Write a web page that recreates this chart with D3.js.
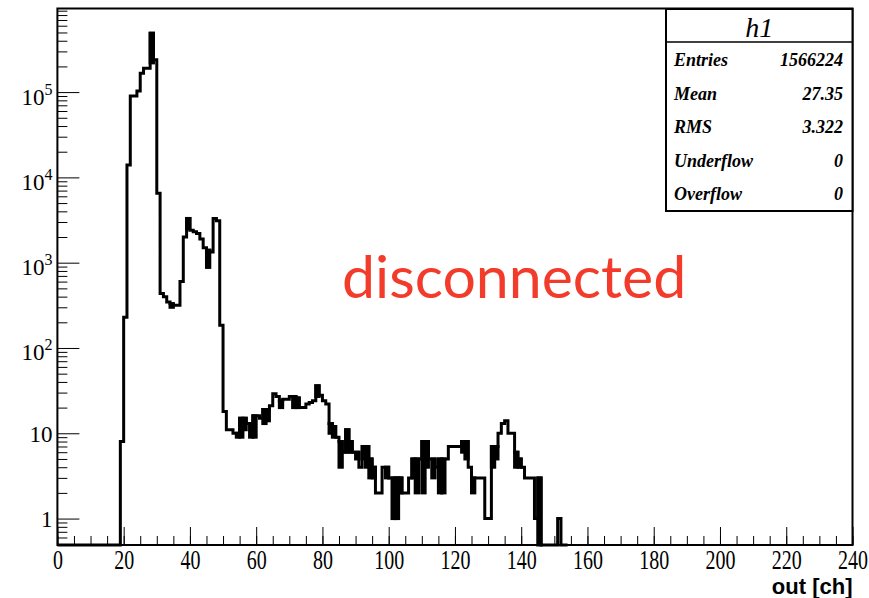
<!DOCTYPE html>
<html>
<head>
<meta charset="utf-8">
<script src="https://cdn.jsdelivr.net/npm/d3@7"></script>
<style>
  body { margin: 0; background: #fff; }
  svg { display: block; }
</style>
</head>
<body>
<svg id="chart" width="869" height="598"></svg>
<script>
// h1 contents, one value per 1-ch bin, starting at firstBin (bins below are empty)
const firstBin = 19;
const counts = [
  8, 230, 14000, 90000, 90000, 103000, 166000, 190000, 190000, 490000,      // 19-28
  240000, 6500, 435, 400, 345, 330, 316, 316, 600, 2000,                    // 29-38
  3300, 2400, 2300, 2200, 1900, 1500, 1400, 1330, 3300, 3100,               // 39-48
  185, 18, 11, 11, 10, 10, 15, 15, 13, 13,                                  // 49-58
  16, 16, 15, 19, 19, 21, 29, 27, 24, 25,                                   // 59-68
  25, 27, 27, 26, 20, 20, 22, 23, 24, 36,                                   // 69-78
  28, 24, 22, 13, 12, 9, 8, 6, 11, 8,                                       // 79-88
  6, 6, 4, 7, 7, 5, 4, 2, 2, 4,                                             // 89-98
  4, 3, 3, 3, 3, 2, 2, 3, 5, 5,                                             // 99-108
  5, 8, 8, 5, 5, 4, 5, 5, 5, 7,                                             // 109-118
  7, 7, 7, 8, 8, 4, 3, 3, 3, 3,                                             // 119-128
  1, 1, 7, 7, 10, 13, 14, 10, 10, 6,                                        // 129-138
  5, 4, 3, 3, 3, 1, 3, 0, 0, 0,                                             // 139-148
  0, 0, 1, 0, 0                                                             // 149-153
];
// bins whose line jumps up and down inside one pixel column: drawn solid down to spreadMin
const spreadBins = [28, 34, 39, 45, 54, 55, 56, 58, 59, 62, 63, 67, 71, 72, 78, 82, 83, 85, 87, 88,
  90, 92, 93, 94, 95, 99, 101, 102, 103, 107, 108, 110, 111, 113, 115, 116, 122, 123, 125, 131,
  132, 138, 139, 145];
const spreadMin = [220000, 300, 2500, 880, 9, 9, 11, 9, 9, 13, 14, 20, 20, 20, 27, 10, 9, 4, 6, 6,
  5, 5, 4, 3, 3, 3, 1, 1, 2, 3, 2, 2, 4, 3, 2, 2, 6, 5, 2, 4,
  5, 4, 4, 0];

const xTicks = [0, 20, 40, 60, 80, 100, 120, 140, 160, 180, 200, 220, 240];
const yDecades = [1, 10, 100, 1000, 10000, 100000];
const statNames = ["Entries", "Mean", "RMS", "Underflow", "Overflow"];
const statValues = ["1566224", "27.35", "3.322", "0", "0"];
const histTitle = "h1";
const xTitle = "out [ch]";
const note = "disconnected";

const svg = d3.select("#chart");
const padL = 57.4, padR = 852.5, padT = 8.5, padB = 545;

const x = d3.scaleLinear().domain([0, 240]).range([padL, padR]);
const y = d3.scaleLog().domain([0.49, 9.55e5]).range([padB, padT]).clamp(true);
const yv = v => v > 0 ? y(v) : padB;

// frame
svg.append("rect")
  .attr("x", padL).attr("y", padT)
  .attr("width", padR - padL).attr("height", padB - padT)
  .attr("fill", "none").attr("stroke", "#000").attr("stroke-width", 2);

// x axis: major + minor ticks pointing inward
svg.append("g").attr("class", "xminor")
  .attr("transform", `translate(0,${padB})`)
  .call(d3.axisBottom(x).tickValues(d3.range(0, 241, 5)).tickSizeInner(-9).tickSizeOuter(0).tickFormat(""))
  .call(g => g.select(".domain").remove());

var xAxis = svg.append("g").attr("class", "xaxis")
  .attr("transform", `translate(0,${padB})`)
  .call(d3.axisBottom(x).tickValues(xTicks).tickSizeInner(-18).tickSizeOuter(0).tickFormat(d3.format("d")));
xAxis.select(".domain").remove();
xAxis.selectAll("line").attr("stroke", "#000");
xAxis.selectAll("text")
  .attr("y", 24).attr("dy", 0)
  .attr("transform", "scale(0.74,1)")
  .attr("fill", "#000")
  .style("font-family", "'Liberation Serif', 'DejaVu Serif', serif")
  .style("font-size", "27px");

// y axis (log): decades and 2..9 minor ticks
var minorY = [];
for (var e = -1; e <= 5; e++) {
  for (var m = 2; m <= 9; m++) {
    var v = m * Math.pow(10, e);
    if (v >= 0.49 && v <= 9.55e5) minorY.push(v);
  }
}
svg.append("g").attr("class", "yminor")
  .attr("transform", `translate(${padL},0)`)
  .call(d3.axisLeft(y).tickValues(minorY).tickSizeInner(-10).tickSizeOuter(0).tickFormat(""))
  .call(g => g.select(".domain").remove());

var yAxis = svg.append("g").attr("class", "yaxis")
  .attr("transform", `translate(${padL},0)`)
  .call(d3.axisLeft(y).tickValues(yDecades).tickSizeInner(-22).tickSizeOuter(0).tickPadding(5));
yAxis.select(".domain").remove();
yAxis.selectAll("text")
  .attr("fill", "#000")
  .style("font-family", "'Liberation Serif', 'DejaVu Serif', serif")
  .style("font-size", "23px")
  .each(function(d) {
    var t = d3.select(this).text(null).attr("dy", null);
    if (d < 100) {
      t.attr("y", 8).text(d);
    } else {
      var p = Math.round(Math.log10(d));
      t.attr("y", 12);
      t.append("tspan").text("10");
      t.append("tspan").attr("dy", -10).style("font-size", "16px").text(p);
    }
  });

// histogram outline
var pts = [];
for (var b = 0; b <= firstBin + counts.length - 1; b++) {
  pts.push([b, b < firstBin ? 0 : counts[b - firstBin]]);
}
pts.push([firstBin + counts.length, 0]);

var line = d3.line()
  .x(function(d) { return x(d[0]); })
  .y(function(d) { return yv(d[1]); })
  .curve(d3.curveStepAfter);

svg.append("path")
  .datum(pts)
  .attr("d", line)
  .attr("fill", "none")
  .attr("stroke", "#000")
  .attr("stroke-width", 3);

svg.append("g").attr("class", "spread")
  .selectAll("rect")
  .data(spreadBins)
  .enter().append("rect")
  .attr("x", function(d) { return x(d); })
  .attr("width", function(d) { return x(d + 1) - x(d); })
  .attr("y", function(d) { return yv(counts[d - firstBin]); })
  .attr("height", function(d, i) { return yv(spreadMin[i]) - yv(counts[d - firstBin]); })
  .attr("fill", "#000")
  .attr("stroke", "#000")
  .attr("stroke-width", 3);

// axis title
svg.append("text")
  .attr("x", padR).attr("y", 594)
  .attr("text-anchor", "end")
  .style("font-family", "'Liberation Sans', Arial, sans-serif")
  .style("font-weight", "bold")
  .style("font-size", "22px")
  .text(xTitle);

// stats box
var box = svg.append("g").attr("class", "stats");
var bx = 666, by = 9, bw = padR - 666, bh = 202;
box.append("rect")
  .attr("x", bx).attr("y", by).attr("width", bw).attr("height", bh)
  .attr("fill", "#fff").attr("stroke", "#000").attr("stroke-width", 2);
box.append("line")
  .attr("x1", bx).attr("x2", bx + bw).attr("y1", 42).attr("y2", 42)
  .attr("stroke", "#000").attr("stroke-width", 1.5);
box.append("text")
  .attr("x", bx + bw / 2).attr("y", 37)
  .attr("text-anchor", "middle")
  .style("font-family", "'Liberation Serif', serif")
  .style("font-style", "italic")
  .style("font-size", "28px")
  .text(histTitle);
statNames.forEach(function(s, i) {
  var ty = 66 + i * 33.5;
  box.append("text")
    .attr("x", 674).attr("y", ty)
    .style("font-family", "'Liberation Serif', serif")
    .style("font-style", "italic").style("font-weight", "bold")
    .style("font-size", "18px")
    .text(s);
  box.append("text")
    .attr("x", 843).attr("y", ty)
    .attr("text-anchor", "end")
    .style("font-family", "'Liberation Serif', serif")
    .style("font-style", "italic").style("font-weight", "bold")
    .style("font-size", "18px")
    .text(statValues[i]);
});

// annotation
svg.append("text")
  .attr("x", 342).attr("y", 298)
  .attr("fill", "#f33b2b")
  .style("font-family", "Lato, 'Open Sans', sans-serif")
  .style("font-size", "59px")
  .text(note);
</script>
</body>
</html>
